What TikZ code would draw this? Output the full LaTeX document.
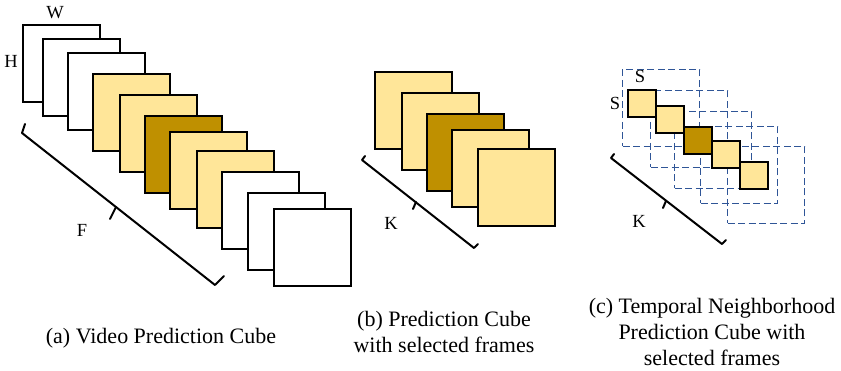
\documentclass[tikz,border=0pt]{standalone}
\usepackage{fontspec}
\setmainfont{Liberation Serif}
\begin{document}
\begin{tikzpicture}[x=1pt,y=-1pt,
  frame/.style={draw=black,line width=2pt,minimum width=77pt,minimum height=77pt,inner sep=0pt,anchor=north west},
  small/.style={draw=black,line width=2pt,minimum width=28pt,minimum height=27pt,inner sep=0pt,anchor=north west},
  nb/.style={draw=dashblue,line width=1pt,dash pattern=on 7pt off 3.5pt,minimum width=77pt,minimum height=77pt,inner sep=0pt,anchor=north west},
  bracket/.style={draw=black,line width=2pt,line join=round,line cap=round},
  lbl/.style={font=\fontsize{18.5}{21}\selectfont,inner sep=0pt},
  captxt/.style={font=\fontsize{22}{26}\selectfont,align=center,inner sep=0pt}]
\definecolor{lyel}{HTML}{FFE699}
\definecolor{dyel}{HTML}{BF9000}
\definecolor{dashblue}{HTML}{2F5597}
\useasboundingbox (0,0) rectangle (841,371);
% Panel (a)
\node[frame,fill=white] (a1) at (22,24) {};
\node[frame,fill=white] (a2) at (42,38) {};
\node[frame,fill=white] (a3) at (67,52) {};
\node[frame,fill=lyel] (a4) at (92,73) {};
\node[frame,fill=lyel] (a5) at (119,94) {};
\node[frame,fill=dyel] (a6) at (144,115) {};
\node[frame,fill=lyel] (a7) at (169,131) {};
\node[frame,fill=lyel] (a8) at (196,150) {};
\node[frame,fill=white] (a9) at (221,171) {};
\node[frame,fill=white] (a10) at (247,192) {};
\node[frame,fill=white] (a11) at (273,208) {};
\node[lbl] (W) at (55,13) {W};
\node[lbl] (H) at (11,61) {H};
\node[lbl] (F) at (82,230) {F};
\coordinate (ab1) at (25,124);
\coordinate (ab2) at (22,133);
\coordinate (abm) at (116,207);
\coordinate (abt) at (110,219);
\coordinate (ab3) at (215,285);
\coordinate (ab4) at (224,276);
\draw[bracket] (ab1) -- (ab2) -- (ab3) -- (ab4);
\draw[bracket] (abm) -- (abt);
\node[captxt] (capa) at (161,338) {(a) Video Prediction Cube};
% Panel (b)
\node[frame,fill=lyel] (b1) at (374,71) {};
\node[frame,fill=lyel] (b2) at (401,92) {};
\node[frame,fill=dyel] (b3) at (426,113) {};
\node[frame,fill=lyel] (b4) at (451,129) {};
\node[frame,fill=lyel] (b5) at (477,148) {};
\node[lbl] (K1) at (391,223) {K};
\coordinate (bb1) at (365,156);
\coordinate (bb2) at (362,160);
\coordinate (bbm) at (416,202);
\coordinate (bbt) at (413,209);
\coordinate (bb3) at (474,248);
\coordinate (bb4) at (478,244);
\draw[bracket] (bb1) -- (bb2) -- (bb3) -- (bb4);
\draw[bracket] (bbm) -- (bbt);
\node[captxt] (capb) at (444,332) {(b) Prediction Cube\\with selected frames};
% Panel (c)
\node[nb] (n1) at (622,69) {};
\node[nb] (n2) at (650,90) {};
\node[nb] (n3) at (674,111) {};
\node[nb] (n4) at (700,126) {};
\node[nb] (n5) at (727,146) {};
\node[small,fill=lyel] (c1) at (627,89) {};
\node[small,fill=lyel] (c2) at (655,105) {};
\node[small,fill=dyel] (c3) at (683,126) {};
\node[small,fill=lyel] (c4) at (711,140) {};
\node[small,fill=lyel] (c5) at (739,161) {};
\node[lbl] (S1) at (640,76) {S};
\node[lbl] (S2) at (615,103) {S};
\node[lbl] (K2) at (639,221) {K};
\coordinate (cb1) at (614,154);
\coordinate (cb2) at (611,158);
\coordinate (cbm) at (666,201);
\coordinate (cbt) at (663,208);
\coordinate (cb3) at (722,244);
\coordinate (cb4) at (726,240);
\draw[bracket] (cb1) -- (cb2) -- (cb3) -- (cb4);
\draw[bracket] (cbm) -- (cbt);
\node[captxt] (capc) at (712,332) {(c) Temporal Neighborhood\\Prediction Cube with\\selected frames};
\end{tikzpicture}
\end{document}
